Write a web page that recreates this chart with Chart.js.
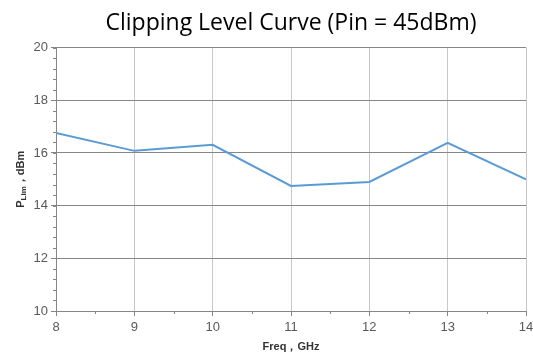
<!DOCTYPE html>
<html>
<head>
<meta charset="utf-8">
<script src="https://cdn.jsdelivr.net/npm/chart.js@4/dist/chart.umd.min.js"></script>
<style>
  html, body { margin: 0; padding: 0; background: #fff; }
  #wrap { width: 533px; height: 354px; }
</style>
</head>
<body>
<div id="wrap"><canvas id="chart" width="533" height="354"></canvas></div>
<script>
// data
const freqs = [8, 9, 10, 11, 12, 13, 14];
const plim = [16.76, 16.08, 16.31, 14.75, 14.9, 16.38, 15.0];
const yTicks = [10, 12, 14, 16, 18, 20];
const xTicks = [8, 9, 10, 11, 12, 13, 14];

const axisGray = '#868686';

// small minor ticks on both axes + y title with subscript
const extras = {
    id: 'extras',
    afterDraw(chart) {
        const ctx = chart.ctx;
        const x = chart.scales.x, y = chart.scales.y;
        const area = chart.chartArea;
        ctx.save();
        ctx.strokeStyle = axisGray;
        ctx.lineWidth = 1;
        ctx.beginPath();
        for (let v = 10.4; v < 20; v += 0.4) {
            const py = Math.round(y.getPixelForValue(v)) + 0.5;
            ctx.moveTo(area.left - 3, py);
            ctx.lineTo(area.left, py);
        }
        for (let v = 8.5; v < 14; v += 1) {
            const px = Math.round(x.getPixelForValue(v)) + 0.5;
            ctx.moveTo(px, area.bottom);
            ctx.lineTo(px, area.bottom + 3);
        }
        ctx.stroke();

        // y title: P_Lim，dBm
        ctx.translate(20, (area.top + area.bottom) / 2);
        ctx.rotate(-Math.PI / 2);
        ctx.fillStyle = '#333';
        ctx.textBaseline = 'alphabetic';
        const big = 'bold 11px "Liberation Sans", sans-serif';
        const small = 'bold 8px "Liberation Sans", sans-serif';
        ctx.font = big;
        const wP = ctx.measureText('P').width;
        const rest = '，dBm';
        const wR = ctx.measureText(rest).width;
        ctx.font = small;
        const wS = ctx.measureText('Lim').width;
        let sx = -(wP + wS + wR) / 2;
        ctx.font = big;
        ctx.fillText('P', sx, 4);
        sx += wP;
        ctx.font = small;
        ctx.fillText('Lim', sx, 6);
        sx += wS;
        ctx.font = big;
        ctx.fillText(rest, sx, 4);
        ctx.restore();
    }
};

new Chart(document.getElementById('chart'), {
    type: 'line',
    data: {
        datasets: [{
            data: freqs.map((f, i) => ({ x: f, y: plim[i] })),
            borderColor: '#5b9bd5',
            borderWidth: 2,
            pointRadius: 0,
            tension: 0
        }]
    },
    options: {
        responsive: false,
        animation: false,
        layout: { padding: { right: 7 } },
        plugins: {
            legend: { display: false },
            tooltip: { enabled: false },
            title: {
                display: true,
                fullSize: false,
                text: 'Clipping Level Curve (Pin = 45dBm)',
                color: '#000',
                font: { family: '"Open Sans", "Liberation Sans", sans-serif', size: 23, weight: 'normal' },
                padding: { top: 10, bottom: 10 }
            }
        },
        scales: {
            x: {
                type: 'linear',
                min: 8,
                max: 14,
                afterBuildTicks: s => { s.ticks = xTicks.map(v => ({ value: v })); },
                afterFit: s => { s.height = 43; s.paddingLeft = 0; s.paddingRight = 0; },
                grid: { color: '#c8c8c8', tickColor: axisGray, tickLength: 5 },
                border: { color: axisGray },
                ticks: { color: '#595959', font: { family: '"Liberation Sans", sans-serif', size: 13 }, padding: 4 },
                title: {
                    display: true,
                    text: 'Freq，GHz',
                    color: '#333',
                    font: { family: '"Liberation Sans", sans-serif', size: 11, weight: 'bold' },
                    padding: { top: 3, bottom: 0 }
                }
            },
            y: {
                min: 10,
                max: 20,
                afterBuildTicks: s => { s.ticks = yTicks.map(v => ({ value: v })); },
                afterFit: s => { s.width = 56; },
                grid: { color: axisGray, tickColor: axisGray, tickLength: 5 },
                border: { color: axisGray },
                ticks: { color: '#595959', font: { family: '"Liberation Sans", sans-serif', size: 13 }, padding: 3 }
            }
        }
    },
    plugins: [extras]
});
</script>
</body>
</html>
